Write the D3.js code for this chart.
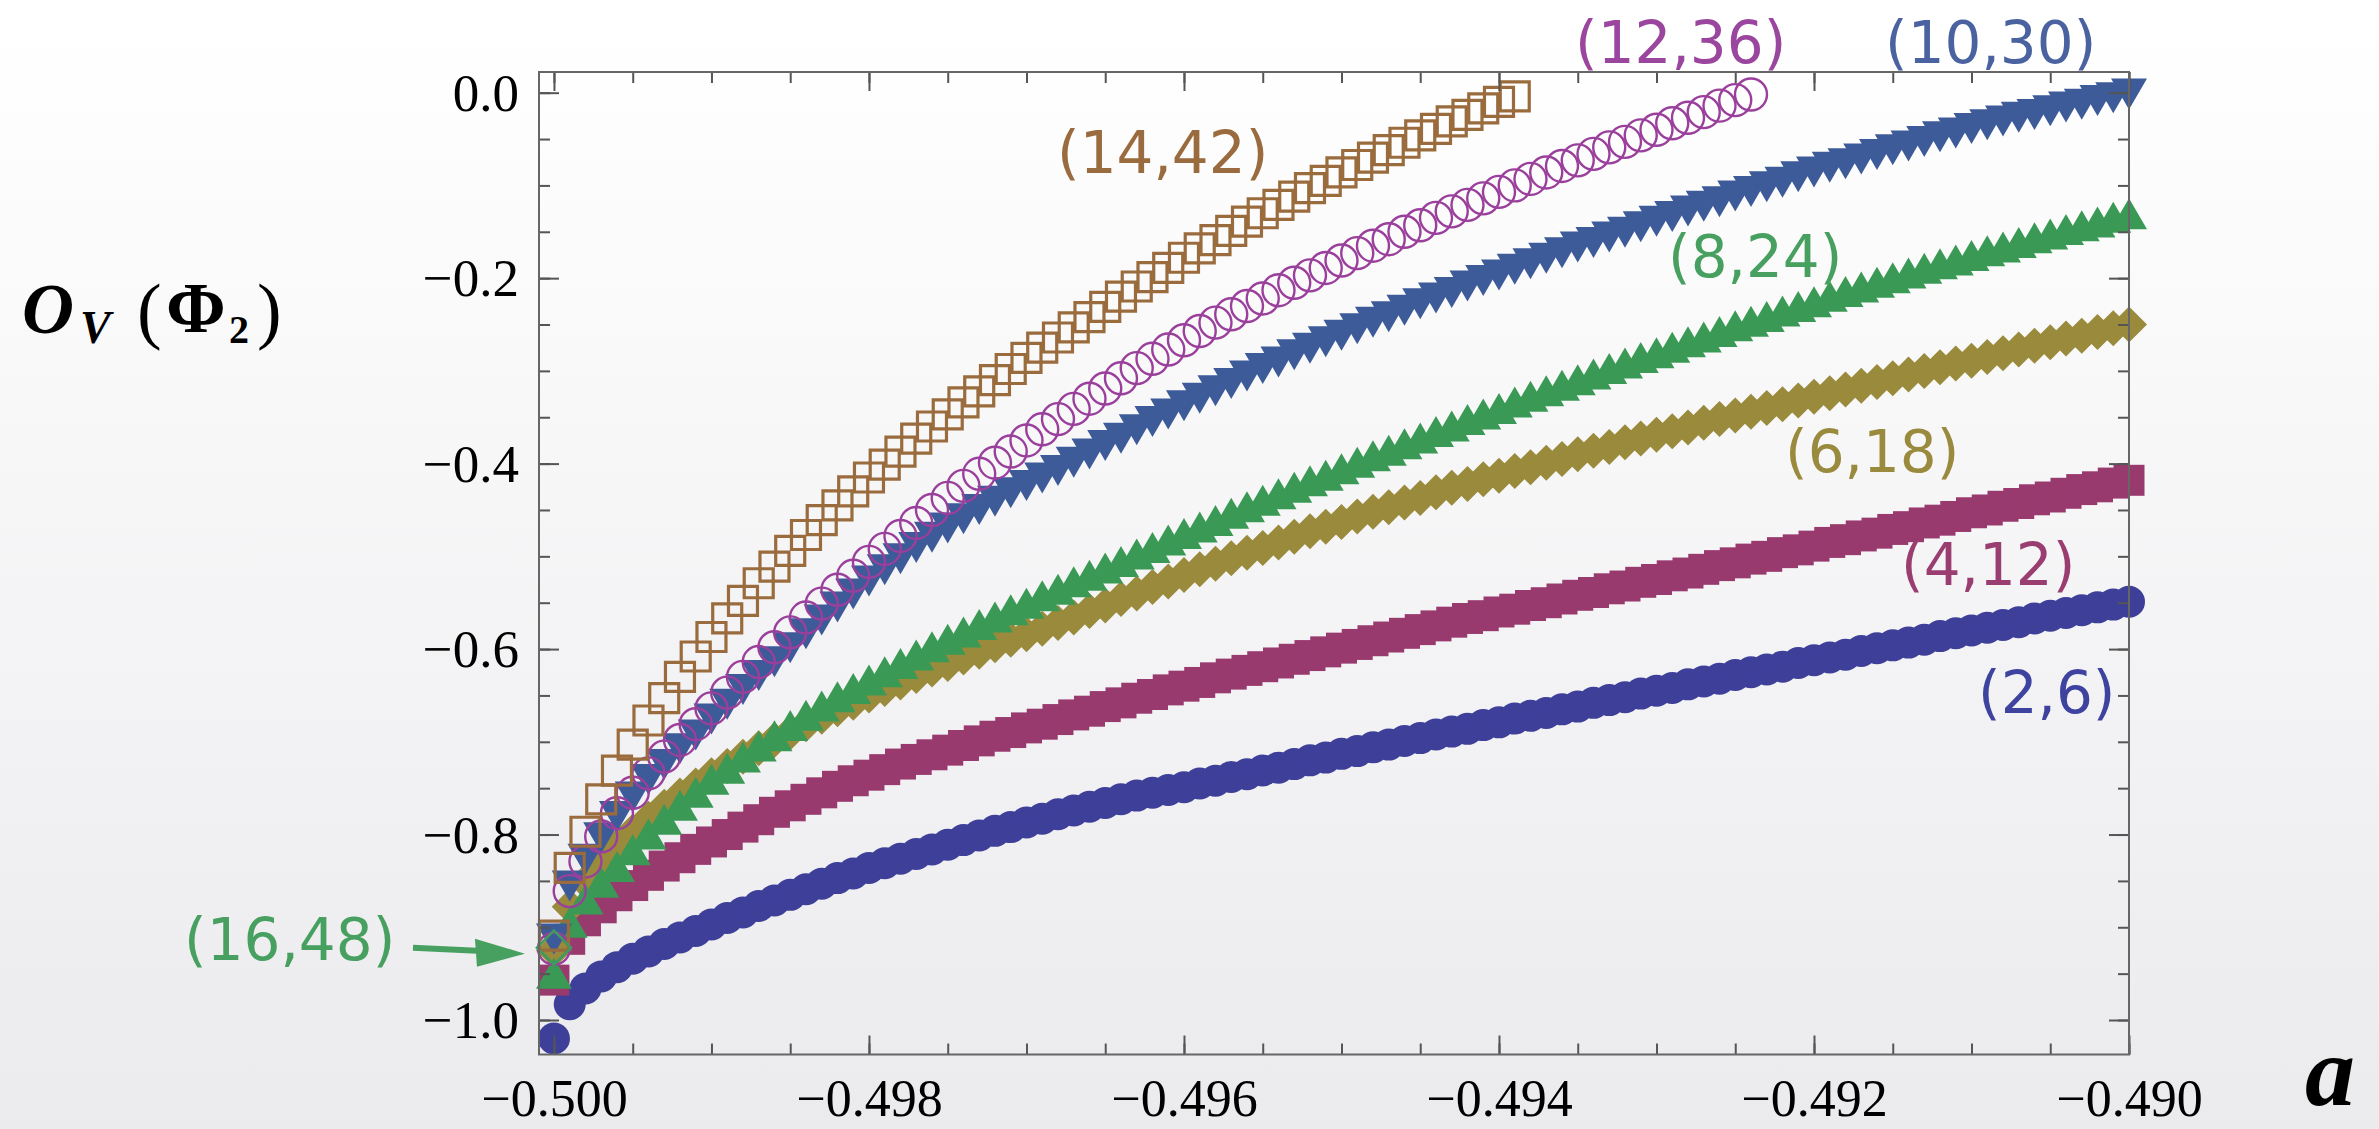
<!DOCTYPE html>
<html><head><meta charset="utf-8">
<script src="https://cdnjs.cloudflare.com/ajax/libs/d3/7.8.5/d3.min.js"></script>
<style>html,body{margin:0;padding:0;overflow:hidden;background:#fff}</style>
</head><body>
<script>
// ---------------- DATA ----------------
const A_START = -0.5, A_STEP = 0.0001;   // a-grid of every series
const xTicks = [-0.500, -0.498, -0.496, -0.494, -0.492, -0.490];
const yTicks = [-1.0, -0.8, -0.6, -0.4, -0.2, 0.0];
const seriesNames = ["(2,6)", "(4,12)", "(6,18)", "(8,24)", "(10,30)", "(12,36)", "(14,42)", "(16,48)"];

const s2_6 = [-1.020,-0.983,-0.966,-0.953,-0.943,-0.934,-0.926,-0.918,-0.911,-0.904,-0.897,
-0.890,-0.884,-0.877,-0.871,-0.865,-0.859,-0.853,-0.847,-0.842,-0.836,
-0.831,-0.826,-0.821,-0.816,-0.811,-0.806,-0.801,-0.796,-0.792,-0.787,
-0.783,-0.778,-0.774,-0.770,-0.766,-0.762,-0.758,-0.755,-0.752,-0.749,
-0.745,-0.742,-0.738,-0.735,-0.731,-0.728,-0.724,-0.720,-0.717,-0.713,
-0.710,-0.706,-0.703,-0.699,-0.696,-0.692,-0.689,-0.686,-0.682,-0.679,
-0.675,-0.672,-0.669,-0.665,-0.662,-0.658,-0.655,-0.652,-0.648,-0.645,
-0.642,-0.638,-0.635,-0.632,-0.628,-0.625,-0.622,-0.619,-0.615,-0.612,
-0.609,-0.606,-0.602,-0.599,-0.596,-0.593,-0.590,-0.586,-0.583,-0.580,
-0.577,-0.574,-0.571,-0.567,-0.564,-0.561,-0.558,-0.555,-0.552,-0.549];

const s4_12 = [-0.957,-0.913,-0.893,-0.879,-0.866,-0.855,-0.844,-0.834,-0.825,-0.816,-0.808,
-0.800,-0.792,-0.784,-0.776,-0.769,-0.762,-0.755,-0.748,-0.742,-0.736,
-0.730,-0.724,-0.719,-0.714,-0.709,-0.704,-0.699,-0.694,-0.690,-0.685,
-0.681,-0.676,-0.671,-0.667,-0.662,-0.658,-0.653,-0.649,-0.644,-0.640,
-0.636,-0.631,-0.627,-0.623,-0.619,-0.615,-0.611,-0.607,-0.603,-0.599,
-0.595,-0.591,-0.587,-0.583,-0.579,-0.575,-0.571,-0.567,-0.564,-0.560,
-0.557,-0.553,-0.550,-0.546,-0.542,-0.539,-0.535,-0.532,-0.528,-0.525,
-0.521,-0.518,-0.514,-0.510,-0.507,-0.503,-0.500,-0.496,-0.493,-0.489,
-0.485,-0.482,-0.478,-0.475,-0.471,-0.468,-0.464,-0.461,-0.457,-0.453,
-0.450,-0.446,-0.443,-0.439,-0.436,-0.432,-0.428,-0.425,-0.421,-0.418];

const s6_18 = [-0.925,-0.878,-0.851,-0.830,-0.813,-0.797,-0.783,-0.770,-0.758,-0.747,-0.736,
-0.726,-0.716,-0.707,-0.698,-0.690,-0.681,-0.673,-0.665,-0.658,-0.650,
-0.643,-0.636,-0.629,-0.622,-0.616,-0.609,-0.603,-0.596,-0.590,-0.584,
-0.578,-0.572,-0.566,-0.559,-0.553,-0.546,-0.540,-0.533,-0.527,-0.520,
-0.514,-0.508,-0.502,-0.496,-0.491,-0.485,-0.479,-0.473,-0.468,-0.463,
-0.457,-0.452,-0.447,-0.442,-0.437,-0.431,-0.426,-0.422,-0.417,-0.413,
-0.408,-0.404,-0.399,-0.395,-0.390,-0.386,-0.382,-0.377,-0.373,-0.369,
-0.365,-0.361,-0.356,-0.352,-0.348,-0.344,-0.340,-0.336,-0.332,-0.328,
-0.324,-0.320,-0.316,-0.312,-0.308,-0.304,-0.300,-0.296,-0.292,-0.289,
-0.285,-0.281,-0.277,-0.273,-0.269,-0.265,-0.262,-0.258,-0.254,-0.250];

const s8_24 = [-0.950,-0.895,-0.870,-0.852,-0.835,-0.817,-0.800,-0.784,-0.769,-0.755,-0.741,
-0.729,-0.717,-0.705,-0.694,-0.683,-0.672,-0.662,-0.652,-0.643,-0.634,
-0.625,-0.616,-0.607,-0.598,-0.590,-0.582,-0.574,-0.566,-0.558,-0.551,
-0.543,-0.536,-0.528,-0.521,-0.513,-0.506,-0.498,-0.491,-0.483,-0.476,
-0.469,-0.462,-0.454,-0.447,-0.440,-0.433,-0.426,-0.419,-0.413,-0.406,
-0.399,-0.392,-0.386,-0.379,-0.373,-0.366,-0.360,-0.353,-0.347,-0.341,
-0.334,-0.328,-0.322,-0.316,-0.310,-0.304,-0.298,-0.292,-0.286,-0.281,
-0.275,-0.269,-0.264,-0.258,-0.252,-0.247,-0.242,-0.236,-0.231,-0.226,
-0.220,-0.215,-0.210,-0.205,-0.200,-0.195,-0.190,-0.185,-0.181,-0.176,
-0.171,-0.167,-0.162,-0.157,-0.153,-0.148,-0.144,-0.140,-0.135,-0.131];

const s10_30 = [-0.912,-0.855,-0.826,-0.803,-0.780,-0.759,-0.740,-0.724,-0.707,-0.692,-0.675,
-0.659,-0.643,-0.628,-0.613,-0.598,-0.583,-0.568,-0.554,-0.540,-0.526,
-0.514,-0.502,-0.490,-0.479,-0.469,-0.459,-0.449,-0.440,-0.431,-0.423,
-0.415,-0.407,-0.398,-0.389,-0.380,-0.372,-0.363,-0.354,-0.346,-0.337,
-0.329,-0.321,-0.313,-0.305,-0.297,-0.290,-0.282,-0.275,-0.268,-0.261,
-0.254,-0.247,-0.241,-0.234,-0.227,-0.221,-0.215,-0.208,-0.202,-0.196,
-0.190,-0.184,-0.178,-0.172,-0.166,-0.161,-0.155,-0.150,-0.144,-0.138,
-0.133,-0.127,-0.122,-0.117,-0.111,-0.106,-0.101,-0.096,-0.090,-0.085,
-0.080,-0.076,-0.071,-0.066,-0.061,-0.057,-0.052,-0.047,-0.043,-0.038,
-0.034,-0.030,-0.026,-0.023,-0.019,-0.015,-0.012,-0.008,-0.005,-0.001];

const s12_36 = [-0.923,-0.861,-0.829,-0.802,-0.777,-0.755,-0.734,-0.716,-0.698,-0.681,-0.664,
-0.647,-0.630,-0.614,-0.598,-0.582,-0.566,-0.551,-0.536,-0.521,-0.506,
-0.492,-0.478,-0.464,-0.450,-0.437,-0.424,-0.411,-0.399,-0.387,-0.375,
-0.363,-0.352,-0.341,-0.330,-0.319,-0.308,-0.297,-0.287,-0.277,-0.267,
-0.257,-0.248,-0.239,-0.230,-0.222,-0.213,-0.205,-0.197,-0.189,-0.181,
-0.173,-0.165,-0.158,-0.150,-0.143,-0.135,-0.128,-0.121,-0.114,-0.107,
-0.100,-0.093,-0.086,-0.079,-0.073,-0.066,-0.059,-0.053,-0.046,-0.040,
-0.033,-0.027,-0.021,-0.014,-0.008,-0.002];

const s14_42 = [-0.909,-0.836,-0.797,-0.762,-0.731,-0.703,-0.677,-0.653,-0.630,-0.608,-0.587,
-0.567,-0.548,-0.529,-0.511,-0.494,-0.477,-0.461,-0.445,-0.430,-0.415,
-0.401,-0.387,-0.373,-0.360,-0.347,-0.334,-0.322,-0.310,-0.298,-0.286,
-0.275,-0.264,-0.253,-0.242,-0.231,-0.220,-0.209,-0.199,-0.189,-0.178,
-0.168,-0.159,-0.149,-0.139,-0.130,-0.121,-0.112,-0.103,-0.095,-0.086,
-0.078,-0.070,-0.062,-0.054,-0.046,-0.039,-0.031,-0.024,-0.017,-0.010,
-0.004];

const s16_48 = [-0.922];

// ---------------- STYLE / LAYOUT ----------------
const W = 2379, H = 1129;
const frame = {left: 539, right: 2129, top: 72, bottom: 1054.5};
const styles = [
  {shape: "disk",    color: "#3d3f99"},
  {shape: "sqfill",  color: "#993a6f"},
  {shape: "diafill", color: "#998a3c"},
  {shape: "triup",   color: "#3a9a55"},
  {shape: "tridn",   color: "#3d5a99"},
  {shape: "ring",    color: "#9a3f9c"},
  {shape: "sqopen",  color: "#9a6b3c"},
  {shape: "diaopen", color: "#3f9a5e"}
];
const seriesValues = [s2_6, s4_12, s6_18, s8_24, s10_30, s12_36, s14_42, s16_48];
const labelLayout = [
  {x: 1978, y: 713, color: "#3e43a0"},
  {x: 1901, y: 585, color: "#9a3e72"},
  {x: 1785, y: 472, color: "#9a8a3e"},
  {x: 1668, y: 277, color: "#47a060"},
  {x: 1885, y: 63,  color: "#4a62a0"},
  {x: 1575, y: 63,  color: "#9b469e"},
  {x: 1057, y: 173, color: "#9a6b3e"},
  {x: 184,  y: 960, color: "#47a060"}
];

const svg = d3.select("body").append("svg").attr("width", W).attr("height", H);
const defs = svg.append("defs");
const grad = defs.append("linearGradient").attr("id", "bg").attr("x1", 0).attr("y1", 0).attr("x2", 0).attr("y2", 1);
[[0, "#ffffff"], [0.08, "#fefefe"], [0.35, "#f8f8f9"], [1, "#ebebee"]].forEach(([o, c]) =>
  grad.append("stop").attr("offset", o).attr("stop-color", c));
svg.append("rect").attr("width", W).attr("height", H).attr("fill", "url(#bg)");

const x = d3.scaleLinear().domain([-0.500095, -0.49]).range([frame.left, frame.right]);
const y = d3.scaleLinear().domain([-1.0372, 0.0223]).range([frame.bottom, frame.top]);

// ---------------- MARKERS ----------------
function shapePath(shape) {
  const p = d3.path();
  switch (shape) {
    case "disk": case "ring": {
      const r = 16; p.moveTo(r, 0); p.arc(0, 0, r, 0, 2 * Math.PI); p.closePath(); break;
    }
    case "sqfill": { const h = 15.5; p.rect(-h, -h, 2 * h, 2 * h); break; }
    case "sqopen": { const h = 14.5; p.rect(-h, -h, 2 * h, 2 * h); break; }
    case "diafill": { const h = 18; p.moveTo(0, -h); p.lineTo(h, 0); p.lineTo(0, h); p.lineTo(-h, 0); p.closePath(); break; }
    case "diaopen": { const h = 17; p.moveTo(0, -h); p.lineTo(h, 0); p.lineTo(0, h); p.lineTo(-h, 0); p.closePath(); break; }
    case "triup": { p.moveTo(0, -16); p.lineTo(18, 15); p.lineTo(-18, 15); p.closePath(); break; }
    case "tridn": { p.moveTo(0, 16); p.lineTo(18, -15); p.lineTo(-18, -15); p.closePath(); break; }
  }
  return p.toString();
}
const openShapes = {ring: 2.4, sqopen: 3.2, diaopen: 2.6};

const plot = svg.append("g");
seriesValues.forEach((vals, k) => {
  const st = styles[k];
  const open = st.shape in openShapes;
  plot.append("g")
    .selectAll("path")
    .data(vals.map((v, i) => ({a: A_START + i * A_STEP, v})))
    .join("path")
    .attr("transform", d => `translate(${x(d.a)},${y(d.v)})`)
    .attr("d", shapePath(st.shape))
    .attr("fill", open ? "none" : st.color)
    .attr("stroke", open ? st.color : "none")
    .attr("stroke-width", open ? openShapes[st.shape] : 0);
});

// ---------------- FRAME & AXES ----------------
const tickColor = "#555";
const xMinor = d3.range(0, 21).map(k => -0.5 + k * 0.0005);
const yMinor = d3.range(0, 21).map(k => -1.0 + k * 0.05);

function styleAxis(g) {
  g.select(".domain").remove();
  g.selectAll(".tick line").attr("stroke", tickColor).attr("stroke-width", 2);
}
const labelFont = "'Liberation Serif','Times New Roman',serif";

// bottom
svg.append("g").attr("transform", `translate(0,${frame.bottom})`)
  .call(d3.axisBottom(x).tickValues(xMinor).tickSizeInner(-11).tickSizeOuter(0).tickFormat(""))
  .call(styleAxis);
const xb = svg.append("g").attr("transform", `translate(0,${frame.bottom})`)
  .call(d3.axisBottom(x).tickValues(xTicks).tickSizeInner(-19).tickSizeOuter(0).tickFormat(d3.format(".3f")))
  .call(styleAxis);
xb.selectAll(".tick text").attr("y", 61).attr("dy", null)
  .attr("font-family", labelFont).attr("font-size", 52).attr("fill", "#000");
// top
svg.append("g").attr("transform", `translate(0,${frame.top})`)
  .call(d3.axisTop(x).tickValues(xMinor).tickSizeInner(-11).tickSizeOuter(0).tickFormat(""))
  .call(styleAxis);
svg.append("g").attr("transform", `translate(0,${frame.top})`)
  .call(d3.axisTop(x).tickValues(xTicks).tickSizeInner(-19).tickSizeOuter(0).tickFormat(""))
  .call(styleAxis);
// left
svg.append("g").attr("transform", `translate(${frame.left},0)`)
  .call(d3.axisLeft(y).tickValues(yMinor).tickSizeInner(-11).tickSizeOuter(0).tickFormat(""))
  .call(styleAxis);
const yl = svg.append("g").attr("transform", `translate(${frame.left},0)`)
  .call(d3.axisLeft(y).tickValues(yTicks).tickSizeInner(-20).tickSizeOuter(0).tickFormat(d3.format(".1f")))
  .call(styleAxis);
yl.selectAll(".tick text").attr("x", -20).attr("dy", "0.33em")
  .attr("font-family", labelFont).attr("font-size", 53).attr("fill", "#000");
// right
svg.append("g").attr("transform", `translate(${frame.right},0)`)
  .call(d3.axisRight(y).tickValues(yMinor).tickSizeInner(-11).tickSizeOuter(0).tickFormat(""))
  .call(styleAxis);
svg.append("g").attr("transform", `translate(${frame.right},0)`)
  .call(d3.axisRight(y).tickValues(yTicks).tickSizeInner(-20).tickSizeOuter(0).tickFormat(""))
  .call(styleAxis);

svg.append("rect")
  .attr("x", frame.left).attr("y", frame.top)
  .attr("width", frame.right - frame.left).attr("height", frame.bottom - frame.top)
  .attr("fill", "none").attr("stroke", "#666").attr("stroke-width", 2);

// ---------------- AXIS TITLES ----------------
const mathFont = "'Liberation Serif','DejaVu Serif',serif";
const yTitle = [
  {t: "O", x: 22,  y: 333, size: 72, weight: "bold", style: "italic"},
  {t: "V", x: 80,  y: 343, size: 46, weight: "bold", style: "italic"},
  {t: "(", x: 137, y: 335, size: 74, weight: "normal", style: "normal"},
  {t: "\u03A6", x: 166, y: 332, size: 72, weight: "bold", style: "normal"},
  {t: "2", x: 229, y: 343, size: 40, weight: "bold", style: "normal"},
  {t: ")", x: 257, y: 335, size: 74, weight: "normal", style: "normal"}
];
const yt = svg.append("text").attr("font-family", mathFont).attr("fill", "#000");
yTitle.forEach(p => {
  yt.append("tspan").attr("x", p.x).attr("y", p.y)
    .attr("font-size", p.size).attr("font-weight", p.weight).attr("font-style", p.style)
    .text(p.t);
});
svg.append("text").attr("x", 2305).attr("y", 1105)
  .attr("font-family", mathFont).attr("font-size", 100)
  .attr("font-weight", "bold").attr("font-style", "italic").attr("fill", "#000").text("a");

// ---------------- SERIES LABELS ----------------
seriesNames.forEach((name, k) => {
  const L = labelLayout[k];
  svg.append("text").attr("x", L.x).attr("y", L.y)
    .attr("font-family", "'DejaVu Sans',sans-serif").attr("font-size", 58)
    .attr("fill", L.color).text(name);
});

// arrow for (16,48) pointing at its single point
const tip = [x(A_START) - 29, y(s16_48[0]) + 6];
const arrow = d3.path();
arrow.moveTo(413, tip[1] - 6); arrow.lineTo(tip[0] - 48, tip[1] - 3);
svg.append("path").attr("d", arrow.toString()).attr("stroke", "#47a060").attr("stroke-width", 6).attr("fill", "none");
const head = d3.path();
head.moveTo(tip[0], tip[1]); head.lineTo(tip[0] - 50, tip[1] - 15); head.lineTo(tip[0] - 48, tip[1] + 13); head.closePath();
svg.append("path").attr("d", head.toString()).attr("fill", "#47a060");
</script>
</body></html>
